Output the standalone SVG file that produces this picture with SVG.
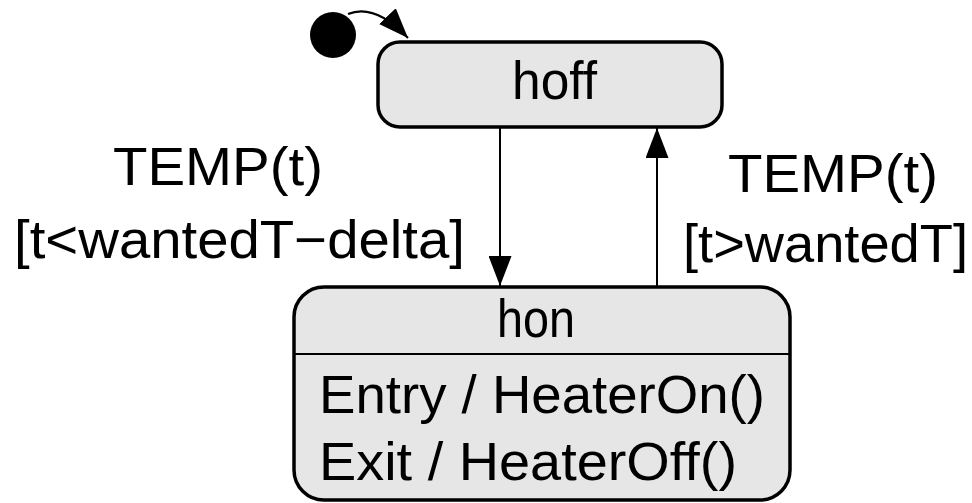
<svg xmlns="http://www.w3.org/2000/svg" width="972" height="503" viewBox="0 0 972 503">
<defs>
<style>
.st{fill:#e6e6e6;stroke:#000;stroke-width:3.5}
.t{font-family:"Liberation Sans","DejaVu Sans",sans-serif;font-size:53px;fill:#000}
.c{fill:none;stroke:#000;stroke-width:2}
</style>
<marker id="ahb" markerWidth="30" markerHeight="23" refX="30" refY="11.5" orient="auto" markerUnits="userSpaceOnUse" viewBox="0 0 30 23">
<path d="M0,0 L30,11.5 L0,23 Z" fill="#000"/>
</marker>
</defs>
<g id="initial">
<circle cx="333" cy="35" r="23" fill="#000"/>
</g>
<g id="hoff">
<rect class="st" x="378" y="42" width="344" height="85" rx="22"/>
<text class="t" x="512" y="99" textLength="85" lengthAdjust="spacingAndGlyphs">hoff</text>
</g>
<g id="hon">
<rect class="st" x="294" y="287" width="496" height="213" rx="30"/>
<line x1="294" y1="354" x2="790" y2="354" stroke="#000" stroke-width="2"/>
<text class="t" x="497" y="337" textLength="78" lengthAdjust="spacingAndGlyphs">hon</text>
<text class="t" x="319" y="413" textLength="446" lengthAdjust="spacingAndGlyphs">Entry / HeaterOn()</text>
<text class="t" x="319" y="480" textLength="418" lengthAdjust="spacingAndGlyphs">Exit / HeaterOff()</text>
</g>
<g id="connectors">
<path class="c" d="M348,14 Q375,3 408,38" marker-end="url(#ahb)"/>
<line class="c" x1="500" y1="127" x2="500" y2="286" marker-end="url(#ahb)"/>
<line class="c" x1="657" y1="287" x2="657" y2="128" marker-end="url(#ahb)"/>
</g>
<g id="labels">
<text class="t" x="113" y="185" textLength="210" lengthAdjust="spacingAndGlyphs">TEMP(t)</text>
<text class="t" x="14" y="258" textLength="451" lengthAdjust="spacingAndGlyphs">[t&lt;wantedT−delta]</text>
<text class="t" x="728" y="192" textLength="210" lengthAdjust="spacingAndGlyphs">TEMP(t)</text>
<text class="t" x="683" y="262" textLength="285" lengthAdjust="spacingAndGlyphs">[t&gt;wantedT]</text>
</g>
</svg>
